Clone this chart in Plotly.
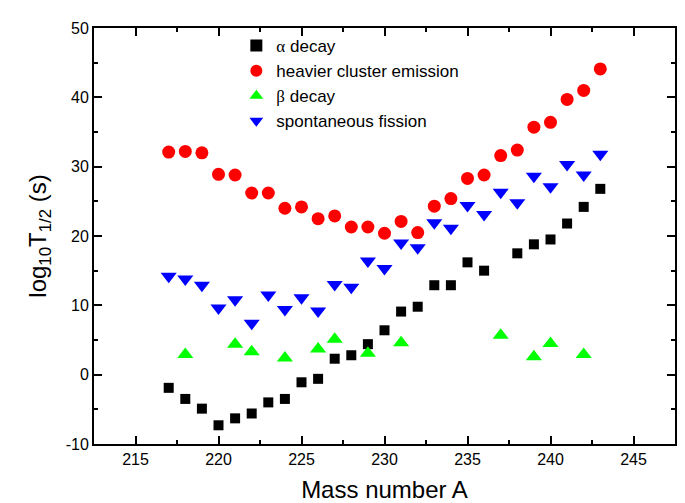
import plotly.graph_objects as go

# Mass numbers and log10 T1/2 values
alpha_A = [217, 218, 219, 220, 221, 222, 223, 224, 225, 226, 227, 228, 229, 230, 231, 232, 233, 234, 235, 236, 238, 239, 240, 241, 242, 243]
alpha_v = [-1.9, -3.5, -4.9, -7.3, -6.3, -5.6, -4.0, -3.5, -1.1, -0.6, 2.3, 2.8, 4.4, 6.4, 9.1, 9.8, 12.9, 12.9, 16.2, 15.0, 17.5, 18.8, 19.5, 21.8, 24.2, 26.8]

cluster_A = [217, 218, 219, 220, 221, 222, 223, 224, 225, 226, 227, 228, 229, 230, 231, 232, 233, 234, 235, 236, 237, 238, 239, 240, 241, 242, 243]
cluster_v = [32.1, 32.2, 32.0, 28.9, 28.8, 26.2, 26.2, 24.0, 24.2, 22.5, 22.9, 21.3, 21.3, 20.4, 22.1, 20.5, 24.3, 25.4, 28.3, 28.8, 31.6, 32.4, 35.7, 36.4, 39.7, 41.0, 44.1]

beta_A = [218, 221, 222, 224, 226, 227, 229, 231, 237, 239, 240, 242]
beta_v = [2.9, 4.4, 3.3, 2.4, 3.7, 5.1, 3.1, 4.6, 5.7, 2.6, 4.5, 2.9]

sf_A = [217, 218, 219, 220, 221, 222, 223, 224, 225, 226, 227, 228, 229, 230, 231, 232, 233, 234, 235, 236, 237, 238, 239, 240, 241, 242, 243]
sf_v = [14.2, 13.8, 12.9, 9.6, 10.8, 7.4, 11.5, 9.4, 11.1, 9.2, 13.0, 12.6, 16.4, 15.3, 19.0, 18.3, 21.9, 21.1, 24.4, 23.1, 26.3, 24.8, 28.6, 27.1, 30.3, 28.8, 31.8]

x_ticks = [215, 220, 225, 230, 235, 240, 245]
y_ticks = [-10, 0, 10, 20, 30, 40, 50]
y_tick_labels = ["-10", "0", "10", "20", "30", "40", "50"]

serif = "'Liberation Serif', 'Times New Roman', serif"
names = [
    f"<span style=\"font-family:{serif}\">α</span> decay",
    "heavier cluster emission",
    f"<span style=\"font-family:{serif}\">β</span> decay",
    "spontaneous fission",
]

fig = go.Figure()
fig.add_trace(go.Scatter(x=alpha_A, y=alpha_v, mode="markers", name=names[0],
                         marker=dict(symbol="square", size=10, color="black")))
fig.add_trace(go.Scatter(x=cluster_A, y=cluster_v, mode="markers", name=names[1],
                         marker=dict(symbol="circle", size=13, color="#ff0000")))
fig.add_trace(go.Scatter(x=beta_A, y=beta_v, mode="markers", name=names[2],
                         marker=dict(symbol="triangle-up", size=14, color="#00ff00")))
fig.add_trace(go.Scatter(x=sf_A, y=sf_v, mode="markers", name=names[3],
                         marker=dict(symbol="triangle-down", size=14, color="#0000ff")))

axis_common = dict(
    showline=True, linecolor="black", linewidth=2, mirror="ticks",
    ticks="inside", ticklen=8, tickwidth=2, tickcolor="black",
    showgrid=False, zeroline=False,
    tickfont=dict(size=16, color="black"),
)

fig.update_xaxes(range=[212.5, 247.5], tickvals=x_ticks,
                 minor=dict(ticks="inside", ticklen=4, tickwidth=2, tickcolor="black", dtick=2.5, tick0=212.5),
                 title=dict(text="Mass number A", font=dict(size=24, color="black"), standoff=14),
                 **axis_common)
fig.update_yaxes(range=[-10, 50], tickvals=y_ticks, ticktext=y_tick_labels,
                 minor=dict(ticks="inside", ticklen=4, tickwidth=2, tickcolor="black", dtick=5, tick0=-10),
                 title=dict(text="log<sub>10</sub>T<sub>1/2</sub> (s)", font=dict(size=24, color="black"), standoff=12),
                 **axis_common)

fig.update_layout(
    width=685, height=503,
    margin=dict(l=86, r=18, t=13, b=65),
    plot_bgcolor="white", paper_bgcolor="white",
    font=dict(family="Arial, 'Liberation Sans', sans-serif", color="black"),
    legend=dict(x=0.245, y=1.0, xanchor="left", yanchor="top",
                bgcolor="rgba(0,0,0,0)", font=dict(size=17, color="black"),
                tracegroupgap=0, itemsizing="constant"),
)

fig.write_html("out.html")
